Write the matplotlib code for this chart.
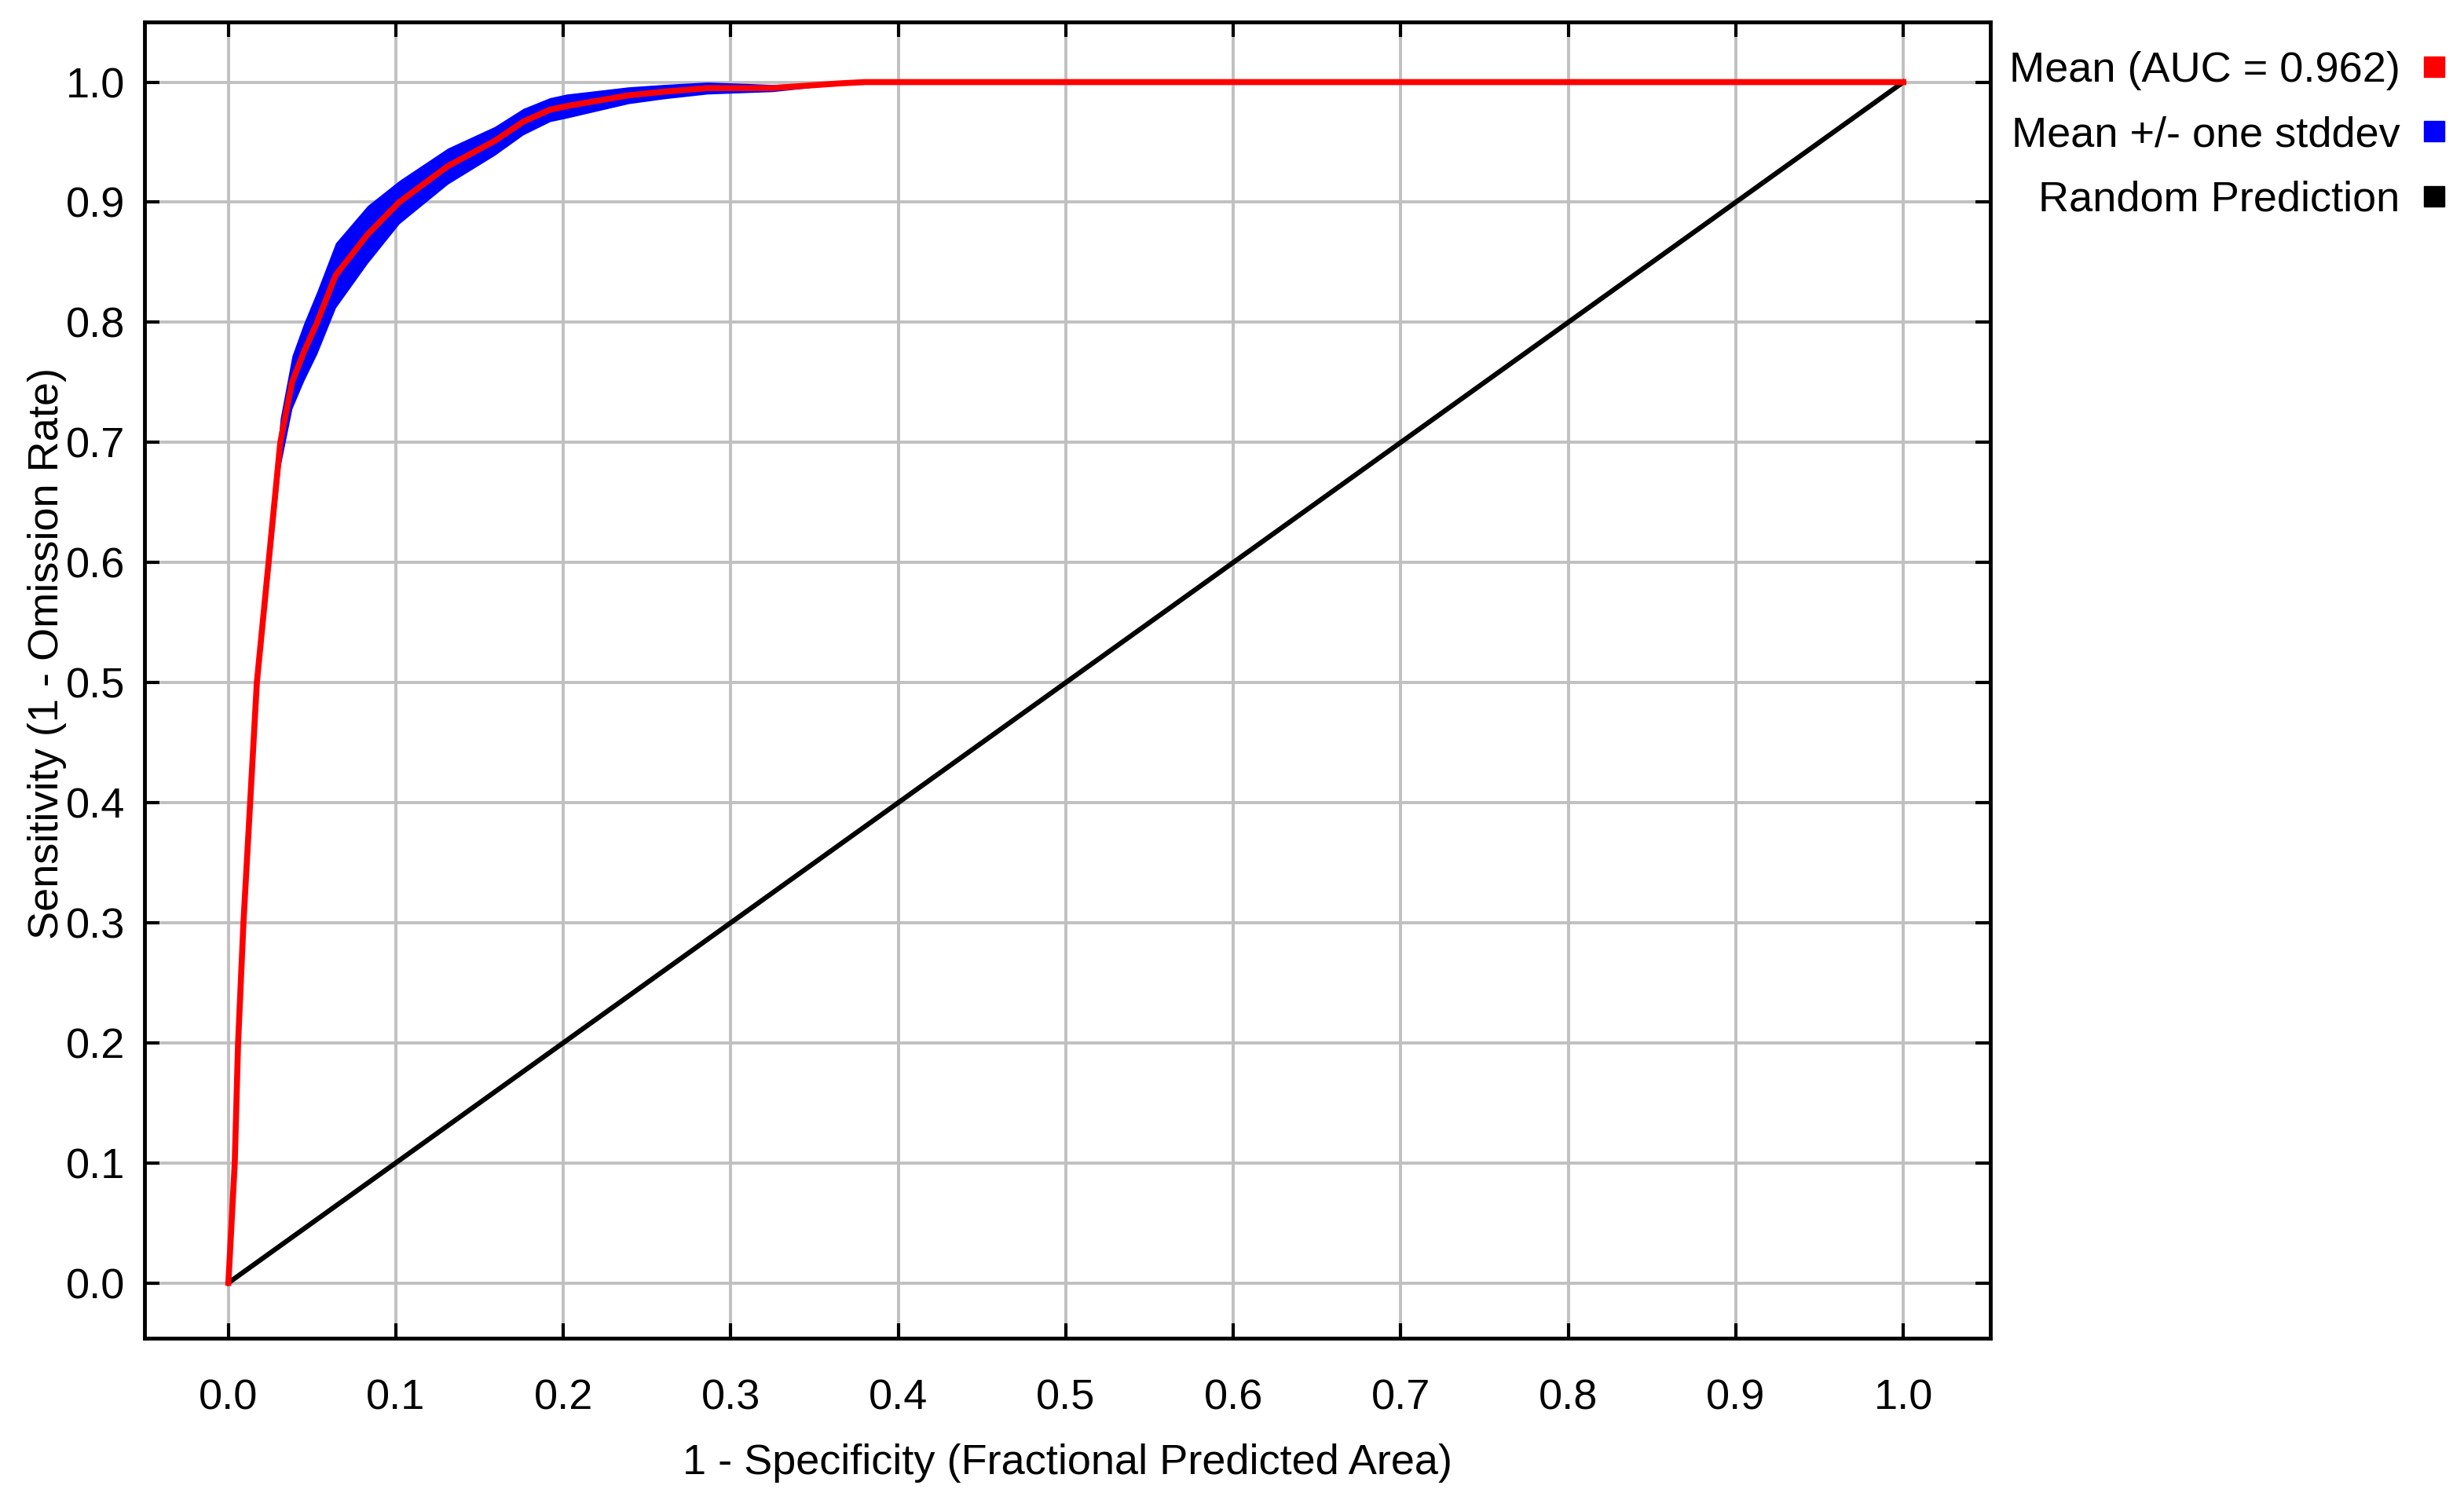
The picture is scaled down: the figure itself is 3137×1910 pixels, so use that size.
import matplotlib
matplotlib.use("Agg")
import matplotlib.pyplot as plt
from matplotlib.lines import Line2D
from matplotlib.ticker import FormatStrFormatter, MultipleLocator
import numpy as np

plt.rcParams['font.family'] = ['Liberation Sans', 'DejaVu Sans']

# mean ROC curve and its standard deviation
fpr = [0.000, 0.0038, 0.0058, 0.009, 0.013, 0.017, 0.024, 0.031, 0.038, 0.045,
       0.053, 0.064, 0.083, 0.102, 0.131, 0.159, 0.176, 0.192, 0.202, 0.239,
       0.260, 0.286, 0.325, 0.345, 0.366, 0.380, 1.000]
tpr_mean = [0.000, 0.100, 0.200, 0.300, 0.400, 0.500, 0.600, 0.700, 0.750, 0.775,
            0.800, 0.839, 0.873, 0.900, 0.930, 0.951, 0.967, 0.977, 0.980, 0.989,
            0.992, 0.995, 0.995, 0.997, 0.999, 1.000, 1.000]
tpr_std = [0.000, 0.006, 0.010, 0.012, 0.014, 0.016, 0.018, 0.020, 0.022, 0.024,
           0.026, 0.027, 0.024, 0.018, 0.015, 0.012, 0.011, 0.010, 0.010, 0.007,
           0.006, 0.005, 0.003, 0.002, 0.001, 0.000, 0.000]
random_x = [0.0, 1.0]
random_y = [0.0, 1.0]

auc = 0.962
labels = ['Mean (AUC = %.3f)' % auc, 'Mean +/- one stddev', 'Random Prediction']
colors = ['#ff0000', '#0000ff', '#000000']

fpr = np.array(fpr)
mean = np.array(tpr_mean)
std = np.array(tpr_std)

fig = plt.figure(figsize=(31.37, 19.10), dpi=100)
ax = fig.add_axes([0.0587, 0.1079, 0.7491, 0.8774])

ax.plot(random_x, random_y, color=colors[2], lw=4.5, zorder=3)
ax.fill_between(fpr, mean - std, np.minimum(mean + std, 1.0),
                color=colors[1], lw=0, zorder=4)
ax.plot(fpr, mean, color=colors[0], lw=5.5, zorder=5)

ax.set_xlim(-0.05, 1.052)
ax.set_ylim(-0.046, 1.05)
ax.xaxis.set_major_locator(MultipleLocator(0.1))
ax.yaxis.set_major_locator(MultipleLocator(0.1))
ax.xaxis.set_major_formatter(FormatStrFormatter('%.1f'))
ax.yaxis.set_major_formatter(FormatStrFormatter('%.1f'))

ax.grid(True, color='#c0c0c0', lw=2.8, zorder=0)
ax.set_axisbelow(True)
for s in ax.spines.values():
    s.set_linewidth(3.5)
    s.set_color('black')

ax.tick_params(axis='both', direction='in', length=14, width=3,
               top=True, right=True, labelsize=39, colors='black')
ax.tick_params(axis='x', pad=37)
ax.tick_params(axis='y', pad=18)

ax.set_xlabel('1 - Specificity (Fractional Predicted Area)', fontsize=39, va='center')
ax.xaxis.set_label_coords(0.5, -0.095)
ax.set_ylabel('Sensitivity (1 - Omission Rate)', fontsize=39, va='center')
ax.yaxis.set_label_coords(-0.053, 0.52)

handles = [Line2D([], [], ls='none', marker='s', markersize=19,
                  markerfacecolor=c, markeredgecolor=c) for c in colors]
fig.legend(handles, labels, loc='upper right', bbox_to_anchor=(0.993, 0.966),
           frameon=False, markerfirst=False, fontsize=39, handlelength=0.6,
           handletextpad=0.5, labelspacing=0.6, borderpad=0, borderaxespad=0)

fig.savefig('out.png', dpi=100, facecolor='white')
